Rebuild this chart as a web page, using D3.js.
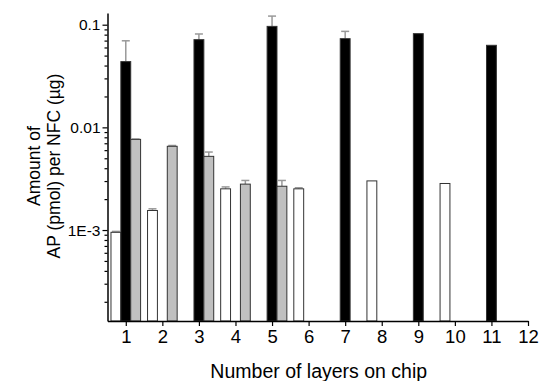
<html>
<script src="https://d3js.org/d3.v7.min.js"></script>
<body style="margin:0;background:#fff">
<svg width=539 height=381></svg>
</body>
<script>

// layers on chip (x ticks)
var xTicks = [1,2,3,4,5,6,7,8,9,10,11,12];
var yTicks = [0.1, 0.01, 0.001];
var yTickLabels = ["0.1", "0.01", "1E-3"];

// white series
var whiteX   = [1, 2, 4, 6, 8, 10];
var whiteVal = [0.00095, 0.00155, 0.00252, 0.00252, 0.00301, 0.00284];
var whiteErr = [0.00002, 0.00006, 0.00011, 0.00006, 0, 0];

// black series
var blackX   = [1, 3, 5, 7, 9, 11];
var blackVal = [0.0437, 0.0715, 0.0963, 0.0731, 0.0818, 0.063];
var blackErr = [0.026, 0.0097, 0.025, 0.013, 0, 0];

// grey series
var greyX   = [1, 2, 3, 4, 5];
var greyVal = [0.00764, 0.00654, 0.00522, 0.0028, 0.00267];
var greyErr = [0.00006, 0.00012, 0.00053, 0.00024, 0.00037];

var svg = d3.select("svg");
var mLeft = 107.5, mRight = 528, mTop = 13, mBottom = 321;
var font = "Liberation Sans, Arial, sans-serif";

var x = d3.scaleLinear().domain([0.5, 12]).range([mLeft, mRight]);
var y = d3.scaleLog().domain([1.3e-4, 0.13]).range([mBottom, mTop]);

var bw = x(0.27) - x(0);

function series(xs, vals, errs, offset, fill) {
  var g = svg.append("g");
  xs.forEach(function(d, i) {
    var cx = x(d + offset);
    // error bar (drawn first so bar covers the lower half)
    if (errs[i] > 0) {
      g.append("line")
        .attr("x1", cx).attr("x2", cx)
        .attr("y1", y(vals[i])).attr("y2", y(vals[i] + errs[i]))
        .attr("stroke", "#999").attr("stroke-width", 1.5);
      g.append("line")
        .attr("x1", cx - 4).attr("x2", cx + 4)
        .attr("y1", y(vals[i] + errs[i])).attr("y2", y(vals[i] + errs[i]))
        .attr("stroke", "#999").attr("stroke-width", 1.5);
    }
    g.append("rect")
      .attr("x", cx - bw/2).attr("width", bw)
      .attr("y", y(vals[i])).attr("height", mBottom - y(vals[i]))
      .attr("fill", fill).attr("stroke", "#333").attr("stroke-width", 1);
  });
}

series(whiteX, whiteVal, whiteErr, -0.27, "#fff");
series(blackX, blackVal, blackErr, 0, "#000");
series(greyX, greyVal, greyErr, 0.27, "#c0c0c0");

// y axis minor ticks
var minor = [];
[1e-4, 1e-3, 1e-2, 1e-1].forEach(function(p) {
  for (var k = 2; k <= 9; k++) {
    var v = k * p;
    if (v >= 1.3e-4 && v <= 0.13) minor.push(v);
  }
});

var yAxis = svg.append("g").attr("transform", "translate(" + mLeft + ",0)");
yAxis.call(d3.axisLeft(y).tickValues(yTicks).tickSize(5).tickSizeOuter(0)
  .tickFormat(function(d, i) { return yTickLabels[i]; }));
svg.append("g").attr("transform", "translate(" + mLeft + ",0)")
  .call(d3.axisLeft(y).tickValues(minor).tickSize(3).tickFormat(""))
  .select(".domain").remove();

// x axis
var xAxis = svg.append("g").attr("transform", "translate(0," + mBottom + ")");
xAxis.call(d3.axisBottom(x).tickValues(xTicks).tickSize(5).tickSizeOuter(0).tickFormat(d3.format("d")));

svg.selectAll(".domain").attr("stroke", "#000").attr("stroke-width", 1.5);
svg.selectAll(".tick line").attr("stroke", "#000").attr("stroke-width", 1.2);
svg.selectAll(".tick text").attr("font-family", font).attr("fill", "#000");
yAxis.selectAll(".tick text").attr("font-size", 15.5).attr("x", -7);
xAxis.selectAll(".tick text").attr("font-size", 18.5).attr("y", 9);

// labels
svg.append("text")
  .attr("x", (mLeft + mRight) / 2 + 1).attr("y", 378)
  .attr("text-anchor", "middle")
  .attr("font-family", font).attr("font-size", 19.5)
  .text("Number of layers on chip");

var yl = svg.append("text")
  .attr("transform", "translate(40,166) rotate(-90)")
  .attr("text-anchor", "middle")
  .attr("font-family", font).attr("font-size", 17.5);
yl.append("tspan").attr("x", 0).attr("dy", 0).text("Amount of");
yl.append("tspan").attr("x", 0).attr("dy", "1.15em").text("AP (pmol) per NFC (\u00b5g)");

</script>
</html>
